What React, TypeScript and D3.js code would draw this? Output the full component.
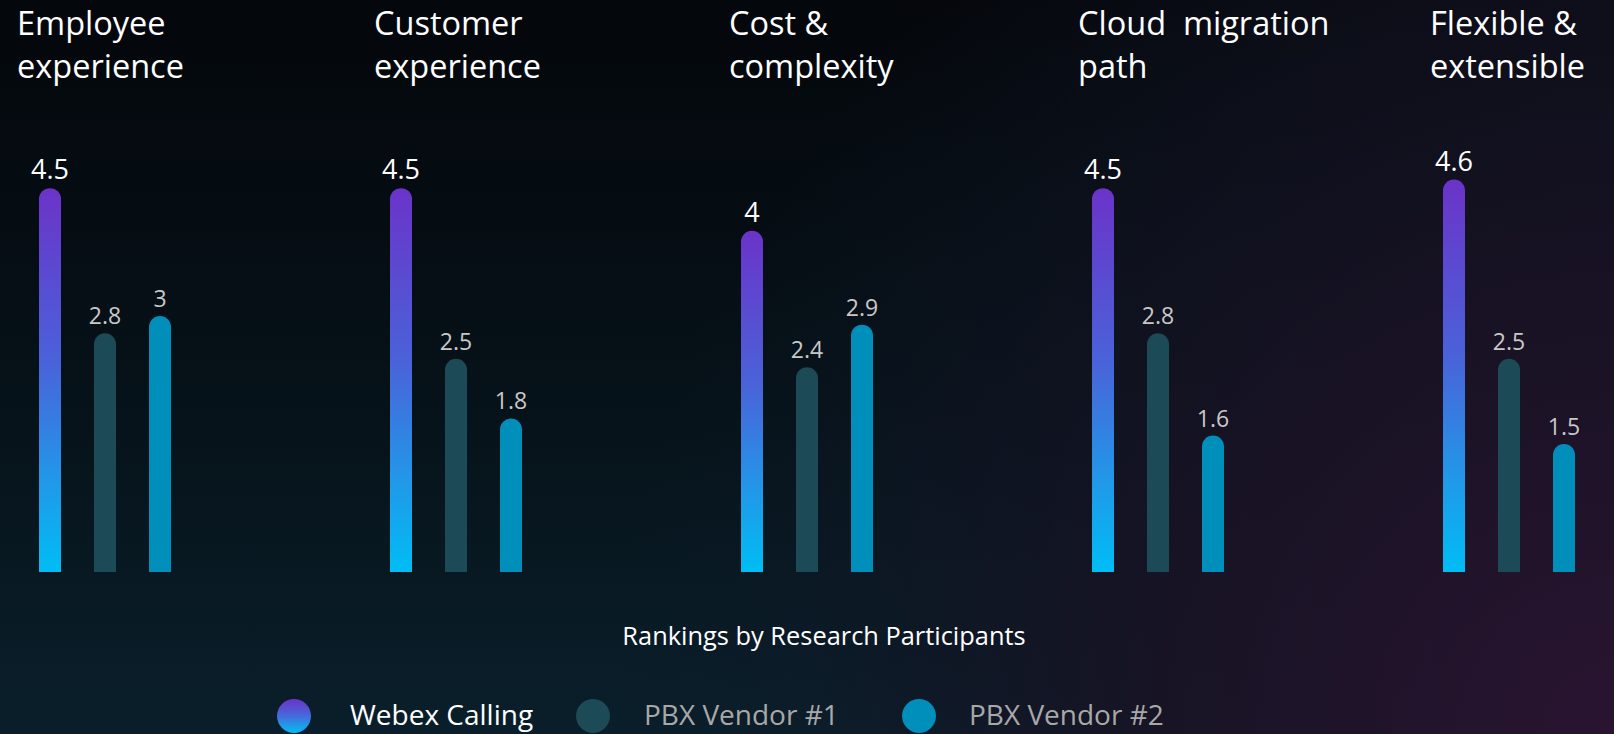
import React, { useEffect, useRef } from "react";
import * as d3 from "d3";

const categories = [
  "Employee experience",
  "Customer experience",
  "Cost & complexity",
  "Cloud  migration path",
  "Flexible & extensible",
];
const categoryLines = [
  ["Employee", "experience"],
  ["Customer", "experience"],
  ["Cost &", "complexity"],
  ["Cloud  migration", "path"],
  ["Flexible &", "extensible"],
];
const seriesNames = ["Webex Calling", "PBX Vendor #1", "PBX Vendor #2"];
const webexValues = [4.5, 4.5, 4, 4.5, 4.6];
const vendor1Values = [2.8, 2.5, 2.4, 2.8, 2.5];
const vendor2Values = [3, 1.8, 2.9, 1.6, 1.5];
const subtitle = "Rankings by Research Participants";

const W = 1614;
const H = 734;
const FONT = "'Open Sans', 'Segoe UI', sans-serif";

export default function App() {
  const ref = useRef<SVGSVGElement | null>(null);

  useEffect(() => {
    document.body.style.margin = "0";
    const svg = d3.select(ref.current).html("");

    const defs = svg.append("defs");
    // background layers
    const bg = defs.append("linearGradient").attr("id", "bgV")
      .attr("x1", 0).attr("y1", 0).attr("x2", 0).attr("y2", 1);
    bg.append("stop").attr("offset", 0).attr("stop-color", "#04070b");
    bg.append("stop").attr("offset", 0.55).attr("stop-color", "#061219");
    bg.append("stop").attr("offset", 1).attr("stop-color", "#0a1f2b");

    const bgR = defs.append("radialGradient").attr("id", "bgR")
      .attr("gradientUnits", "userSpaceOnUse")
      .attr("cx", W).attr("cy", H).attr("r", 1000);
    bgR.append("stop").attr("offset", 0).attr("stop-color", "#2a1431").attr("stop-opacity", 1);
    bgR.append("stop").attr("offset", 0.45).attr("stop-color", "#1a1326").attr("stop-opacity", 0.85);
    bgR.append("stop").attr("offset", 1).attr("stop-color", "#0c1a28").attr("stop-opacity", 0);

    const bgT = defs.append("linearGradient").attr("id", "bgT")
      .attr("x1", 0).attr("y1", 0).attr("x2", 1).attr("y2", 0);
    bgT.append("stop").attr("offset", 0.5).attr("stop-color", "#0a0710").attr("stop-opacity", 0);
    bgT.append("stop").attr("offset", 1).attr("stop-color", "#0e0913").attr("stop-opacity", 0.7);

    const grad = defs.append("linearGradient").attr("id", "webex")
      .attr("x1", 0).attr("y1", 0).attr("x2", 0).attr("y2", 1);
    grad.append("stop").attr("offset", 0).attr("stop-color", "#6b33c9");
    grad.append("stop").attr("offset", 0.45).attr("stop-color", "#4a62d9");
    grad.append("stop").attr("offset", 0.75).attr("stop-color", "#2396e8");
    grad.append("stop").attr("offset", 1).attr("stop-color", "#00bdf4");

    svg.append("rect").attr("width", W).attr("height", H).attr("fill", "url(#bgV)");
    svg.append("rect").attr("width", W).attr("height", H).attr("fill", "url(#bgT)");
    svg.append("rect").attr("width", W).attr("height", H).attr("fill", "url(#bgR)");

    const colors = ["url(#webex)", "#1c4a57", "#008fba"];
    const labelColors = ["#ffffff", "#c8c8c8", "#c8c8c8"];
    const labelSizes = [27, 23, 23];
    const labelGap = [9, 9, 9];

    const x0 = d3.scaleBand().domain(categories).range([39, 39 + 351 * 5]);
    const x1 = d3.scaleBand().domain(seriesNames).range([0, 132]).paddingInner(0.6);
    const y = d3.scaleLinear().domain([0, 5]).range([572, 572 - 85.3 * 5]);

    const rows = categories.map((c, i) => ({
      cat: c,
      values: [webexValues[i], vendor1Values[i], vendor2Values[i]],
    }));

    const bw = x1.bandwidth();
    const r = bw / 2;
    const barPath = (x: number, top: number, bottom: number) =>
      `M${x},${bottom}L${x},${top + r}A${r},${r} 0 0 1 ${x + bw},${top + r}L${x + bw},${bottom}Z`;

    const titleNudge = [-22, -16, -12, -14, -13];

    const g = svg.selectAll(".grp").data(rows).enter().append("g")
      .attr("class", "grp")
      .attr("transform", (d) => `translate(${x0(d.cat)},0)`);

    g.append("text")
      .attr("x", (d, i) => titleNudge[i])
      .attr("y", 35)
      .attr("fill", "#ffffff")
      .style("font-family", FONT)
      .style("font-size", "32.5px")
      .style("white-space", "pre")
      .selectAll("tspan")
      .data((d, i) => categoryLines[i].map((t) => ({ t, i })))
      .enter().append("tspan")
      .attr("x", (d) => titleNudge[d.i])
      .attr("dy", (d, j) => (j === 0 ? 0 : 43))
      .text((d) => d.t);

    seriesNames.forEach((s, k) => {
      g.append("path")
        .attr("d", (d) => barPath(x1(s) as number, y(d.values[k]), y(0)))
        .attr("fill", colors[k]);
      g.append("text")
        .attr("x", (x1(s) as number) + bw / 2)
        .attr("y", (d) => y(d.values[k]) - labelGap[k])
        .attr("text-anchor", "middle")
        .attr("fill", labelColors[k])
        .style("font-family", FONT)
        .style("font-size", labelSizes[k] + "px")
        .text((d) => String(d.values[k]));
    });

    svg.append("text")
      .attr("x", 824)
      .attr("y", 645)
      .attr("text-anchor", "middle")
      .attr("fill", "#ffffff")
      .style("font-family", FONT)
      .style("font-size", "25.4px")
      .text(subtitle);

    // legend
    const legendX = [294, 593, 919];
    const legendTextX = [350, 644, 969];
    const legendText = ["#ffffff", "#a8a8a8", "#a8a8a8"];
    const lg = svg.selectAll(".lg").data(seriesNames).enter().append("g").attr("class", "lg");
    lg.append("circle")
      .attr("cx", (d, i) => legendX[i])
      .attr("cy", 716)
      .attr("r", 17)
      .attr("fill", (d, i) => colors[i]);
    lg.append("text")
      .attr("x", (d, i) => legendTextX[i])
      .attr("y", 725)
      .attr("fill", (d, i) => legendText[i])
      .style("font-family", FONT)
      .style("font-size", "28px")
      .text((d) => d);
  }, []);

  return (
    <svg
      ref={ref}
      width={W}
      height={H}
      style={{ display: "block", position: "absolute", left: 0, top: 0 }}
    />
  );
}
